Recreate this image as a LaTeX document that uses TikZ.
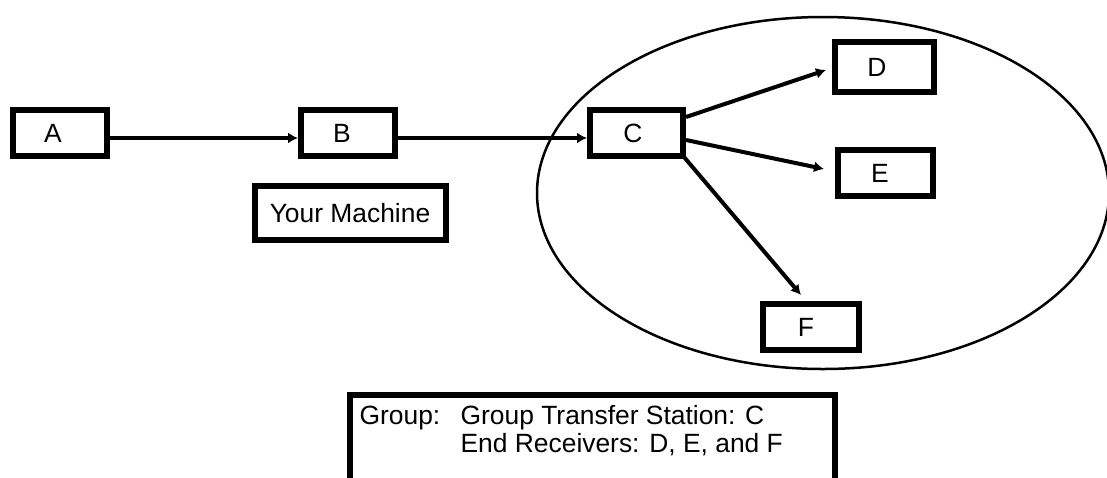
\documentclass[tikz,border=0pt]{standalone}
\usepackage{fontspec}
\setmainfont{Liberation Sans}
\usetikzlibrary{arrows.meta}
\begin{document}
\begin{tikzpicture}[x=0.5pt,y=-0.5pt,
  every node/.style={font=\fontsize{13.2}{14}\selectfont},
  box/.style={draw, line width=3pt, inner sep=0pt, minimum width=47pt, minimum height=23pt},
  arr/.style={line width=2pt, -{Latex[length=5pt,width=5.5pt]}},
  groupbox/.style={draw, line width=3pt, outer sep=0pt, inner xsep=4.8pt, inner ysep=0pt,
    text height=14.75pt, text depth=60pt, anchor=north west},
  ring/.style={line width=1.25pt}]
\useasboundingbox (0,0) rectangle (1107,477);
\clip (0,0) rectangle (1107,477);
% group ellipse
\draw[ring] (823,193) ellipse [x radius=143pt, y radius=88pt];
% boxes
\node[box] (A) at (60,133) {A\kern7pt};
\node[box] (B) at (348,133) {B\kern6pt};
\node[box, minimum width=95.5pt, minimum height=27pt] (M) at (350,213) {Your Machine};
\node[box, minimum width=46.5pt] (C) at (636.5,133) {C\kern3.5pt};
\node[box, minimum width=49.5pt, minimum height=25pt] (D) at (884.5,67) {D\kern7.5pt};
\node[box, minimum width=47.5pt] (E) at (885.5,173) {E\kern5.5pt};
\node[box, minimum width=48pt] (F) at (811,327) {F\kern5pt};
% connectors
\draw[arr] ([yshift=-2.5pt]A.east) -- ([yshift=-2.5pt]B.west);
\draw[arr] ([yshift=-2.5pt]B.east) -- ([yshift=-2.5pt]C.west);
\draw[arr] ([shift={(0,-16)}]C.east) -- ([shift={(-6,3)}]D.west);
\draw[arr] ([shift={(0,7)}]C.east) -- ([shift={(-11,-4)}]E.west);
\draw[arr] ([shift={(-2,-2)}]C.south east) -- ([shift={(-10,-6)}]F.north);
% legend box
\node[groupbox] (G) at (350,395) {\makebox[232.9pt][l]{\begin{tabular}[t]{@{}p{50.5pt}@{}l@{}}Group: & Group Transfer Station: C\\ & End Receivers: D, E, and F\end{tabular}}};
\end{tikzpicture}
\end{document}
